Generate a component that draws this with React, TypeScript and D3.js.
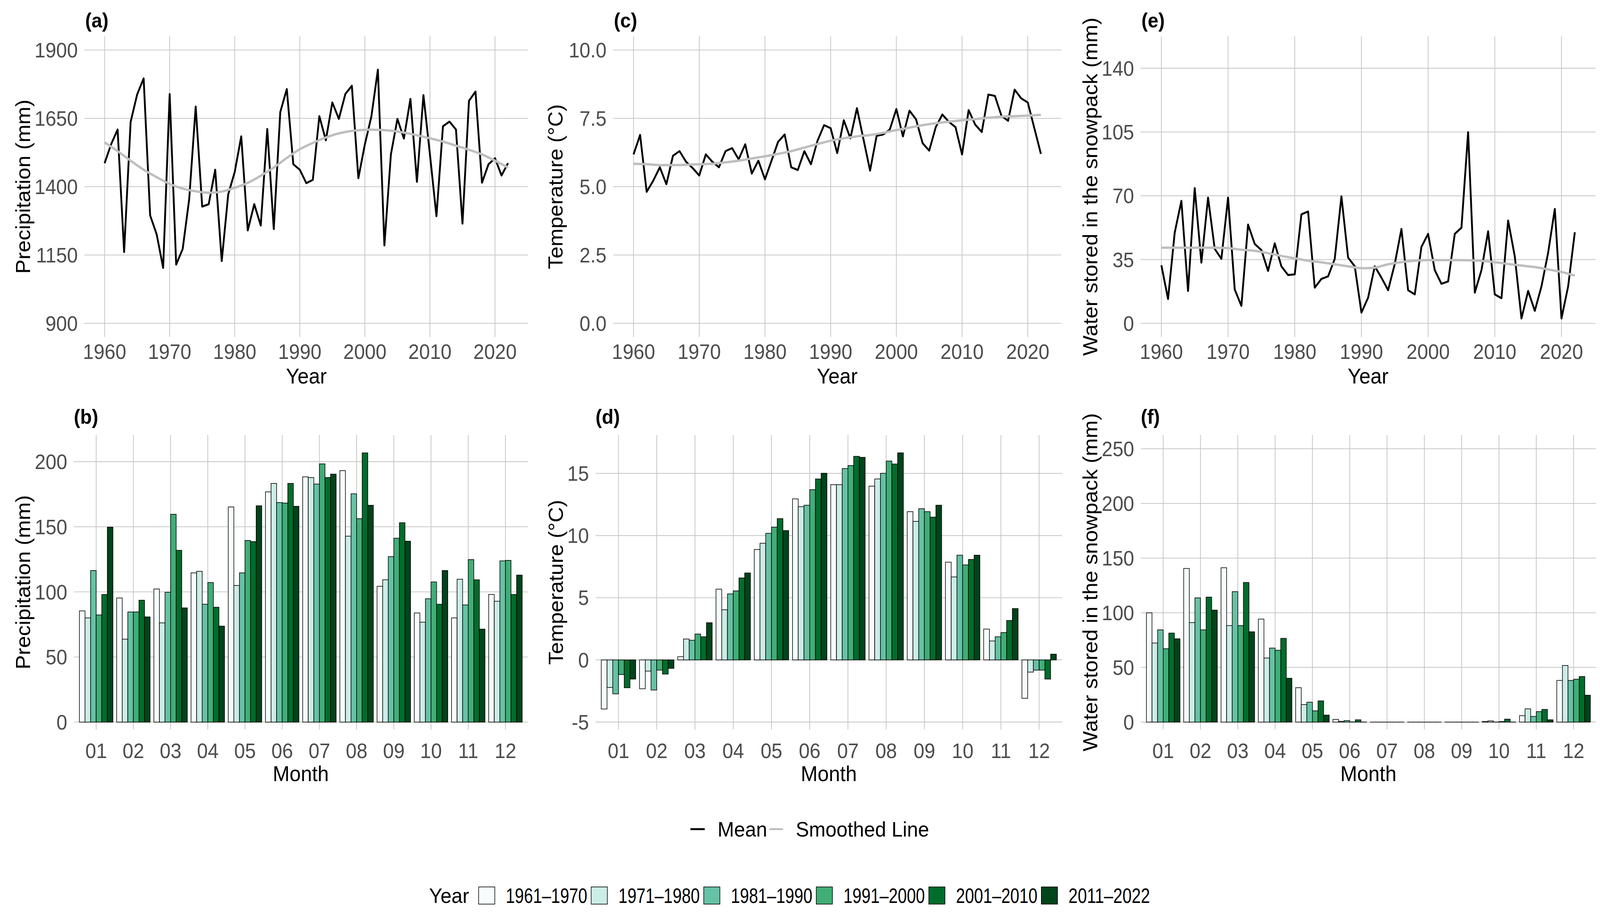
import React, { useEffect } from 'react';
import * as d3 from 'd3';

const W = 4359;
const H = 2348;
const FONT = "'Liberation Sans', Arial, Helvetica, sans-serif";
const GRID = '#c9c9c9';
const TICK_COLOR = '#4d4d4d';

// ---- annual series (top row) ----
const years = [
  1960, 1961, 1962, 1963, 1964, 1965, 1966, 1967, 1968, 1969,
  1970, 1971, 1972, 1973, 1974, 1975, 1976, 1977, 1978, 1979,
  1980, 1981, 1982, 1983, 1984, 1985, 1986, 1987, 1988, 1989,
  1990, 1991, 1992, 1993, 1994, 1995, 1996, 1997, 1998, 1999,
  2000, 2001, 2002, 2003, 2004, 2005, 2006, 2007, 2008, 2009,
  2010, 2011, 2012, 2013, 2014, 2015, 2016, 2017, 2018, 2019,
  2020, 2021, 2022,
];

const precipMean = [
  1486, 1555, 1609, 1161, 1637, 1737, 1796, 1295, 1226, 1103,
  1739, 1115, 1172, 1354, 1693, 1327, 1336, 1462, 1128, 1372,
  1454, 1584, 1240, 1336, 1258, 1611, 1245, 1673, 1757, 1482,
  1462, 1413, 1425, 1658, 1570, 1708, 1648, 1739, 1769, 1431,
  1555, 1657, 1828, 1185, 1518, 1648, 1576, 1721, 1418, 1735,
  1518, 1292, 1621, 1638, 1609, 1265, 1714, 1748, 1415, 1482,
  1504, 1441, 1486,
];

const tempMean = [
  6.18, 6.89, 4.81, 5.22, 5.71, 5.09, 6.13, 6.3, 5.91, 5.68,
  5.41, 6.18, 5.91, 5.71, 6.3, 6.41, 6.0, 6.55, 5.48, 5.95,
  5.27, 5.95, 6.64, 6.91, 5.71, 5.61, 6.3, 5.82, 6.68, 7.25,
  7.14, 6.23, 7.43, 6.77, 7.87, 6.73, 5.59, 6.86, 6.91, 7.09,
  7.84, 6.84, 7.78, 7.46, 6.59, 6.32, 7.18, 7.64, 7.37, 7.18,
  6.18, 7.8, 7.27, 7.0, 8.37, 8.32, 7.59, 7.41, 8.55, 8.23,
  8.08, 7.14, 6.2,
];

const sweMean = [
  31.9, 13.4, 49.8, 67.2, 17.8, 74.2, 33.3, 69.0, 40.9, 35.4,
  69.0, 18.6, 9.6, 54.2, 43.6, 40.2, 28.8, 43.9, 31.3, 26.5,
  26.9, 59.8, 61.4, 19.6, 24.4, 25.8, 35.4, 69.7, 36.1, 31.3,
  5.9, 14.1, 31.3, 25.1, 18.2, 32.6, 51.8, 18.2, 15.9, 42.0,
  49.1, 29.2, 21.7, 23.0, 49.1, 52.5, 104.9, 16.9, 29.2, 50.5,
  15.9, 13.8, 56.4, 36.7, 2.7, 17.8, 6.9, 20.3, 38.8, 62.8,
  2.7, 20.3, 50.0,
];

// smoothed line, read every second year
const smoothYears = [
  1960, 1962, 1964, 1966, 1968, 1970, 1972, 1974, 1976, 1978,
  1980, 1982, 1984, 1986, 1988, 1990, 1992, 1994, 1996, 1998,
  2000, 2002, 2004, 2006, 2008, 2010, 2012, 2014, 2016, 2018,
  2020, 2022,
];

const precipSmooth = [
  1562, 1530, 1495, 1462, 1435, 1410, 1393, 1383, 1378, 1382,
  1396, 1414, 1440, 1470, 1505, 1537, 1560, 1580, 1595, 1604,
  1608, 1608, 1605, 1598, 1588, 1577, 1565, 1550, 1535, 1518,
  1495, 1470,
];

const tempSmooth = [
  5.84, 5.82, 5.79, 5.79, 5.8, 5.82, 5.84, 5.89, 5.95, 6.03,
  6.11, 6.2, 6.3, 6.43, 6.56, 6.68, 6.77, 6.84, 6.89, 6.97,
  7.07, 7.16, 7.25, 7.32, 7.38, 7.43, 7.47, 7.52, 7.56, 7.58,
  7.6, 7.63,
];

const sweSmooth = [
  41.5, 41.5, 41.5, 41.5, 41.5, 41.3, 40.4, 39.8, 38.5, 37.0,
  35.7, 34.4, 33.5, 32.4, 31.3, 30.3, 30.6, 32.4, 33.6, 34.4,
  34.7, 34.7, 34.7, 34.6, 34.3, 33.6, 32.6, 31.7, 30.9, 29.6,
  28.2, 26.2,
];

// ---- monthly by decade (bottom row) ----
const months = ['01', '02', '03', '04', '05', '06', '07', '08', '09', '10', '11', '12'];
const decades = ['1961–1970', '1971–1980', '1981–1990', '1991–2000', '2001–2010', '2011–2022'];
const decadeColors = ['#f7fcfd', '#ccece6', '#66c2a4', '#41ae76', '#006d2c', '#00441b'];

const precipMonthly = [
  [85.4, 80.0, 116.4, 82.3, 98.0, 149.7],
  [95.3, 63.7, 84.6, 84.6, 93.6, 80.8],
  [102.2, 76.2, 99.7, 159.6, 131.9, 87.7],
  [114.6, 115.8, 90.5, 107.2, 88.2, 73.7],
  [165.2, 104.9, 114.6, 139.5, 138.6, 166.1],
  [176.8, 183.3, 168.6, 168.2, 183.3, 165.7],
  [188.3, 187.8, 182.8, 198.3, 187.8, 190.4],
  [193.1, 142.8, 175.3, 156.2, 206.7, 166.5],
  [104.3, 109.3, 127.1, 141.2, 153.1, 138.9],
  [83.8, 76.7, 94.7, 107.6, 90.5, 116.4],
  [80.0, 109.7, 90.0, 124.8, 109.3, 71.4],
  [98.0, 92.8, 123.8, 124.2, 98.0, 112.9],
];

const tempMonthly = [
  [-3.95, -2.22, -2.73, -1.18, -2.24, -1.54],
  [-2.32, -0.9, -2.42, -0.82, -1.14, -0.68],
  [0.26, 1.68, 1.58, 2.08, 1.86, 2.99],
  [5.69, 4.03, 5.31, 5.55, 6.59, 6.99],
  [8.88, 9.38, 10.18, 10.68, 11.36, 10.4],
  [12.95, 12.32, 12.44, 13.69, 14.55, 15.01],
  [14.09, 14.09, 15.39, 15.63, 16.37, 16.29],
  [13.97, 14.55, 15.01, 15.99, 15.75, 16.65],
  [11.92, 11.14, 12.16, 11.92, 11.48, 12.44],
  [7.86, 6.67, 8.42, 7.64, 8.08, 8.42],
  [2.48, 1.52, 1.86, 2.2, 3.17, 4.13],
  [-3.09, -0.98, -0.82, -0.82, -1.54, 0.46],
];

const sweMonthly = [
  [99.9, 72.3, 84.4, 67.1, 81.4, 76.2],
  [140.5, 91.0, 113.6, 84.4, 114.3, 102.4],
  [141.2, 88.3, 119.3, 88.3, 127.7, 82.6],
  [94.2, 58.6, 67.7, 65.7, 76.6, 40.1],
  [31.5, 16.0, 18.2, 10.3, 19.4, 6.4],
  [2.5, 0.7, 1.4, 0.2, 2.1, 0.1],
  [0, 0, 0, 0, 0, 0],
  [0, 0, 0, 0, 0, 0],
  [0, 0, 0, 0, 0, 0],
  [0.5, 1.1, 0.1, 0.5, 2.7, 0.1],
  [5.9, 12.1, 5.2, 9.6, 11.6, 2.1],
  [38.1, 51.8, 38.1, 39.2, 41.7, 24.6],
];

const yearTicks = [1960, 1970, 1980, 1990, 2000, 2010, 2020];

// ---- layout ----
const TOP_ROW = { top: 93, bottom: 863, tickBase: 919, titleBase: 982, tagBase: 70 };
const BOT_ROW = { top: 1114, bottom: 1868, tickBase: 1941, titleBase: 2000, tagBase: 1085 };

interface LinePanelProps {
  tag: string;
  left: number;
  right: number;
  yDomain: [number, number];
  yTicks: number[];
  fmt: (v: number) => string;
  yTitle: string;
  yTitleX: number;
  mean: number[];
  smooth: number[];
}

const LinePanel: React.FC<LinePanelProps> = ({ tag, left, right, yDomain, yTicks, fmt, yTitle, yTitleX, mean, smooth }) => {
  const row = TOP_ROW;
  const x = d3.scaleLinear().domain([1956.9, 2025.1]).range([left, right]);
  const y = d3.scaleLinear().domain(yDomain).range([row.bottom, row.top]);

  const meanLine = d3.line<number>().x((_, i) => x(years[i])).y(d => y(d));
  const smoothLine = d3.line<number>()
    .x((_, i) => x(smoothYears[i]))
    .y(d => y(d))
    .curve(d3.curveCatmullRom);

  const midY = (row.top + row.bottom) / 2;
  return (
    <g>
      {yTicks.map(t => (
        <line key={'h' + t} x1={left} x2={right} y1={y(t)} y2={y(t)} stroke={GRID} strokeWidth={2.2} />
      ))}
      {yearTicks.map(t => (
        <line key={'v' + t} x1={x(t)} x2={x(t)} y1={row.top} y2={row.bottom} stroke={GRID} strokeWidth={2.2} />
      ))}
      <path d={meanLine(mean) || ''} fill="none" stroke="#000" strokeWidth={5} strokeLinejoin="round" />
      <path d={smoothLine(smooth) || ''} fill="none" stroke="#bebebe" strokeWidth={6} />
      {yTicks.map(t => (
        <text key={'yl' + t} x={left - 18} y={y(t) + 19} textAnchor="end" fontSize={53} fill={TICK_COLOR}>
          {fmt(t)}
        </text>
      ))}
      {yearTicks.map(t => (
        <text key={'xl' + t} x={x(t)} y={row.tickBase} textAnchor="middle" fontSize={53} fill={TICK_COLOR}>
          {t}
        </text>
      ))}
      <text x={(left + right) / 2} y={row.titleBase} textAnchor="middle" fontSize={55} fill="#000">Year</text>
      <text
        transform={`translate(${yTitleX},${midY}) rotate(-90)`}
        textAnchor="middle"
        fontSize={55}
        fill="#000"
      >
        {yTitle}
      </text>
      <text x={left + 2} y={row.tagBase} fontSize={52} fontWeight="bold" fill="#000">{tag}</text>
    </g>
  );
};

interface BarPanelProps {
  tag: string;
  left: number;
  right: number;
  yDomain: [number, number];
  yTicks: number[];
  yTitle: string;
  yTitleX: number;
  values: number[][];
}

const BarPanel: React.FC<BarPanelProps> = ({ tag, left, right, yDomain, yTicks, yTitle, yTitleX, values }) => {
  const row = BOT_ROW;
  const x = d3.scaleBand<string>().domain(months).range([left, right]).paddingInner(0).paddingOuter(0.1);
  const step = x.step();
  const inner = d3.scaleBand<string>().domain(decades).range([-0.45 * step, 0.45 * step]);
  const y = d3.scaleLinear().domain(yDomain).range([row.bottom, row.top]);
  const cx = (m: string) => (x(m) as number) + x.bandwidth() / 2;
  const midY = (row.top + row.bottom) / 2;

  return (
    <g>
      {yTicks.map(t => (
        <line key={'h' + t} x1={left} x2={right} y1={y(t)} y2={y(t)} stroke={GRID} strokeWidth={2.2} />
      ))}
      {months.map(m => (
        <line key={'v' + m} x1={cx(m)} x2={cx(m)} y1={row.top} y2={row.bottom} stroke={GRID} strokeWidth={2.2} />
      ))}
      {months.map((m, mi) =>
        decades.map((dec, di) => {
          const v = values[mi][di];
          const y0 = y(0);
          const yv = y(v);
          return (
            <rect
              key={m + dec}
              x={cx(m) + (inner(dec) as number)}
              y={Math.min(y0, yv)}
              width={inner.bandwidth()}
              height={Math.max(Math.abs(yv - y0), 0.01)}
              fill={decadeColors[di]}
              stroke="#000"
              strokeWidth={1.6}
            />
          );
        })
      )}
      {yTicks.map(t => (
        <text key={'yl' + t} x={left - 18} y={y(t) + 19} textAnchor="end" fontSize={53} fill={TICK_COLOR}>
          {t}
        </text>
      ))}
      {months.map(m => (
        <text key={'xl' + m} x={cx(m)} y={row.tickBase} textAnchor="middle" fontSize={53} fill={TICK_COLOR}>
          {m}
        </text>
      ))}
      <text x={(left + right) / 2} y={row.titleBase} textAnchor="middle" fontSize={55} fill="#000">Month</text>
      <text
        transform={`translate(${yTitleX},${midY}) rotate(-90)`}
        textAnchor="middle"
        fontSize={55}
        fill="#000"
      >
        {yTitle}
      </text>
      <text x={left} y={row.tagBase} fontSize={52} fontWeight="bold" fill="#000">{tag}</text>
    </g>
  );
};

const App: React.FC = () => {
  const f0 = d3.format('d');
  const f1 = d3.format('.1f');
  const legendStep = 306.6;

  useEffect(() => {
    document.body.style.margin = '0';
    document.body.style.overflow = 'hidden';
  }, []);

  return (
    <div style={{ position: 'fixed', left: 0, top: 0, width: '100vw', height: '100vh', background: '#fff' }}>
      <svg
        width="100%"
        height="100%"
        viewBox={`0 0 ${W} ${H}`}
        preserveAspectRatio="none"
        style={{ display: 'block' }}
        fontFamily={FONT}
      >
        <rect width={W} height={H} fill="#fff" />

        <LinePanel tag="(a)" left={230} right={1439} yDomain={[850, 1950]} yTicks={[900, 1150, 1400, 1650, 1900]}
          fmt={f0} yTitle="Precipitation (mm)" yTitleX={82} mean={precipMean} smooth={precipSmooth} />
        <LinePanel tag="(c)" left={1670.5} right={2891.3} yDomain={[-0.5, 10.5]} yTicks={[0, 2.5, 5, 7.5, 10]}
          fmt={f1} yTitle="Temperature (°C)" yTitleX={1532} mean={tempMean} smooth={tempSmooth} />
        <LinePanel tag="(e)" left={3107.7} right={4346.7} yDomain={[-7.5, 157.5]} yTicks={[0, 35, 70, 105, 140]}
          fmt={f0} yTitle="Water stored in the snowpack (mm)" yTitleX={2989} mean={sweMean} smooth={sweSmooth} />

        <BarPanel tag="(b)" left={201.2} right={1437.8} yDomain={[-5.7, 220.4]} yTicks={[0, 50, 100, 150, 200]}
          yTitle="Precipitation (mm)" yTitleX={82} values={precipMonthly} />
        <BarPanel tag="(d)" left={1622.5} right={2893.5} yDomain={[-5.6, 18.08]} yTicks={[-5, 0, 5, 10, 15]}
          yTitle="Temperature (°C)" yTitleX={1534} values={tempMonthly} />
        <BarPanel tag="(f)" left={3108} right={4348} yDomain={[-6.8, 262.5]} yTicks={[0, 50, 100, 150, 200, 250]}
          yTitle="Water stored in the snowpack (mm)" yTitleX={2989} values={sweMonthly} />

        {/* line legend */}
        <g>
          <line x1={1881} x2={1920} y1={2123} y2={2123} stroke="#000" strokeWidth={5} />
          <text x={1955} y={2142} fontSize={54} fill="#000">Mean</text>
          <line x1={2096} x2={2133} y1={2123} y2={2123} stroke="#bebebe" strokeWidth={5} />
          <text x={2168} y={2142} fontSize={54} fill="#000">Smoothed Line</text>
        </g>

        {/* decade legend */}
        <g>
          <text x={1169} y={2312} fontSize={54} fill="#000">Year</text>
          {decades.map((dec, i) => {
            const bx = 1304 + i * legendStep;
            return (
              <g key={dec}>
                <rect x={bx} y={2271} width={44} height={44} fill={decadeColors[i]} stroke="#000" strokeWidth={1.6} />
                <text x={bx + 74} y={2312} fontSize={54} fill="#000" textLength={222} lengthAdjust="spacingAndGlyphs">
                  {dec}
                </text>
              </g>
            );
          })}
        </g>
      </svg>
    </div>
  );
};

export default App;
